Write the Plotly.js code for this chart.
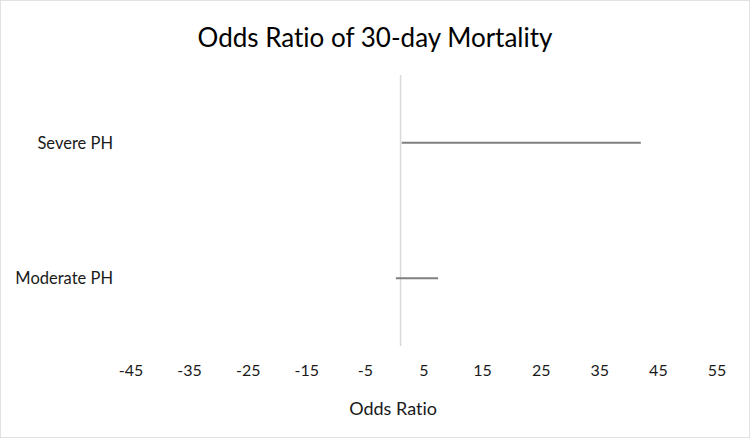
<!DOCTYPE html>
<html>
<head>
<meta charset="utf-8">
<script src="https://cdn.plot.ly/plotly-3.0.1.min.js"></script>
<style>
  html, body { margin: 0; padding: 0; background: #fff; }
  #chart { width: 750px; height: 438px; }
  #chart text { font-variant-ligatures: none; font-feature-settings: "liga" 0; }
</style>
</head>
<body>
<div id="chart"></div>
<script>
// forest-style chart: one CI line per group, reference line at OR = 1
let groups = ["Moderate PH", "Severe PH"];
let lower = [0.2, 1.2];
let upper = [7.4, 42];
let refValue = 1;
let tickVals = [-45, -35, -25, -15, -5, 5, 15, 25, 35, 45, 55];

let data = [];
for (let i = 0; i < groups.length; i++) {
    data.push({
        x: [lower[i], upper[i]],
        y: [groups[i], groups[i]],
        mode: 'lines',
        type: 'scatter',
        hoverinfo: 'none',
        line: { color: '#7f7f7f', width: 2 }
    });
}

let layout = {
    width: 750,
    height: 438,
    margin: { l: 131, r: 33, t: 75, b: 92 },
    paper_bgcolor: '#ffffff',
    plot_bgcolor: '#ffffff',
    font: { family: 'Lato, "Open Sans", sans-serif', color: '#1a1a1a' },
    title: {
        text: 'Odds Ratio of 30-day Mortality',
        font: { size: 26, color: '#000000' },
        x: 0.5,
        xanchor: 'center',
        y: 0.913,
        yanchor: 'middle'
    },
    xaxis: {
        range: [-45, 55],
        tickvals: tickVals,
        ticktext: tickVals.map(String),
        showgrid: false,
        zeroline: false,
        showline: false,
        ticks: '',
        ticklabelstandoff: 13,
        tickfont: { size: 16, color: '#1a1a1a' },
        fixedrange: true
    },
    yaxis: {
        type: 'category',
        categoryarray: groups,
        range: [-0.5, 1.5],
        showgrid: false,
        zeroline: false,
        showline: false,
        ticks: '',
        ticklabelstandoff: 17,
        tickfont: { size: 16.5, color: '#1a1a1a' },
        fixedrange: true
    },
    annotations: [
        {
            text: 'Odds Ratio',
            xref: 'paper', yref: 'paper',
            x: (393 - 131) / 586, y: -(408 - 346) / 271,
            xanchor: 'center', yanchor: 'middle',
            showarrow: false,
            font: { size: 18, color: '#1a1a1a' }
        }
    ],
    shapes: [
        {
            type: 'line',
            xref: 'x', x0: refValue, x1: refValue,
            yref: 'paper', y0: 0, y1: 1,
            line: { color: '#d9d9d9', width: 1.5 },
            layer: 'below'
        },
        {
            type: 'rect',
            xref: 'paper', yref: 'paper',
            x0: -131 / 586, x1: 1 + 33 / 586,
            y0: -92 / 271, y1: 1 + 75 / 271,
            line: { color: '#d9d9d9', width: 1.5 },
            fillcolor: 'rgba(0,0,0,0)'
        }
    ],
    showlegend: false,
    hovermode: false
};

Plotly.newPlot('chart', data, layout, { displayModeBar: false, staticPlot: true });
</script>
</body>
</html>
